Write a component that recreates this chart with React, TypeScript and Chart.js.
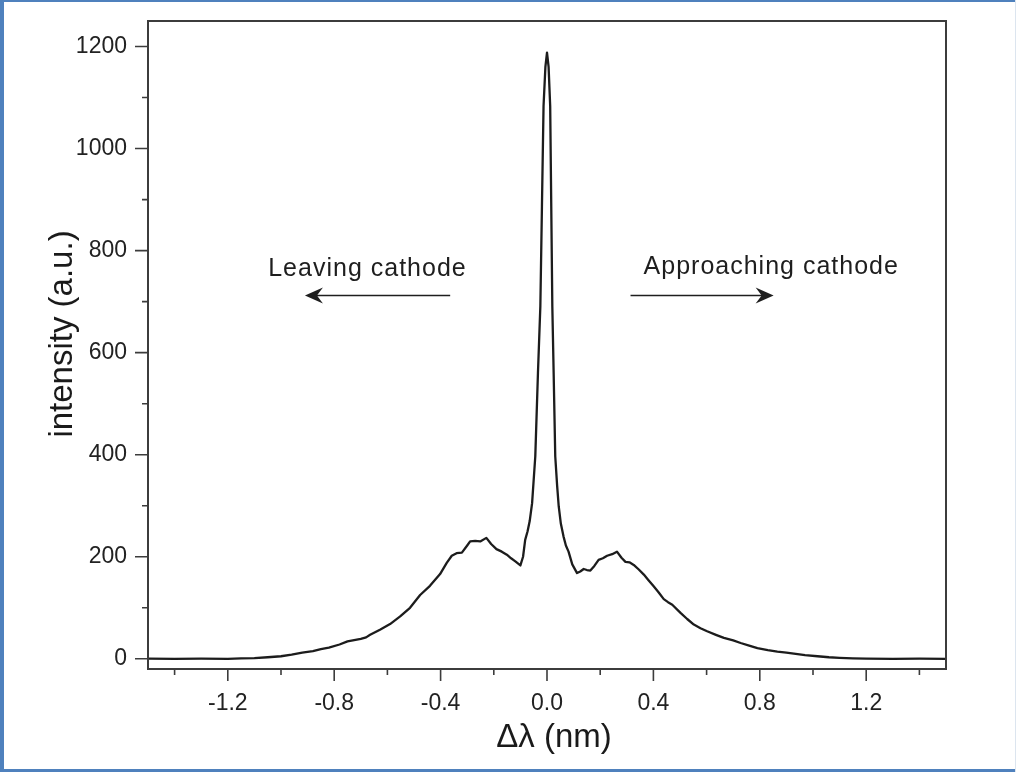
import React, { useEffect, useRef } from 'react';
import { Chart, registerables } from 'chart.js';

Chart.register(...registerables);

// Δλ (nm)
const wavelengthShift = [
  -1.5, -1.4, -1.3, -1.2, -1.15, -1.1, -1.05, -1.0, -0.96, -0.92, -0.88, -0.85, -0.82, -0.78, -0.75,
  -0.72, -0.7, -0.68, -0.665, -0.628, -0.59, -0.552, -0.515, -0.477, -0.44, -0.402, -0.377, -0.358,
  -0.34, -0.32, -0.3, -0.289, -0.27, -0.251, -0.228, -0.21, -0.19, -0.17, -0.151, -0.135, -0.119,
  -0.1, -0.09, -0.082, -0.073, -0.065, -0.056, -0.044, -0.034, -0.025, -0.019, -0.013, -0.006, 0,
  0.006, 0.012, 0.016, 0.02, 0.025, 0.031, 0.038, 0.044, 0.052, 0.062, 0.071, 0.081, 0.095, 0.113,
  0.125, 0.138, 0.15, 0.163, 0.178, 0.194, 0.21, 0.226, 0.245, 0.263, 0.28, 0.295, 0.31, 0.326, 0.345,
  0.364, 0.38, 0.401, 0.42, 0.439, 0.455, 0.471, 0.502, 0.527, 0.552, 0.577, 0.602, 0.635, 0.665, 0.7,
  0.728, 0.76, 0.791, 0.83, 0.866, 0.9, 0.928, 0.97, 1.017, 1.06, 1.1, 1.15, 1.2, 1.3, 1.4, 1.5,
];

// intensity (a.u.)
const intensity = [
  0.5, 0, 0.5, 0, 1, 1.5, 3, 5, 8, 12, 15, 19, 22, 28, 34,
  37, 39, 42, 47, 57, 68, 83, 100, 125, 143, 166, 188, 202,
  207, 208, 222, 230, 231, 230, 237, 225, 215, 210, 204, 197, 191,
  183, 200, 233, 250, 270, 305, 397, 560, 691, 887, 1083, 1160, 1188,
  1160, 1083, 887, 691, 560, 397, 340, 299, 265, 240, 222, 210, 185, 168,
  171, 176, 174, 173, 182, 194, 197, 202, 205, 210, 198, 190, 189, 184, 175,
  165, 155, 142, 130, 117, 111, 106, 90, 78, 67, 60, 54, 47, 41, 36,
  31, 26, 21, 17, 14, 12, 10, 7, 5, 3, 2, 1, 0.5, 0, 0.5, 0,
];

const xMajorTicks = [-1.2, -0.8, -0.4, 0, 0.4, 0.8, 1.2];
const xMinorTicks = [-1.4, -1.0, -0.6, -0.2, 0.2, 0.6, 1.0, 1.4];
const xTickLabels = ['-1.2', '-0.8', '-0.4', '0.0', '0.4', '0.8', '1.2'];
const yMajorTicks = [0, 200, 400, 600, 800, 1000, 1200];
const yMinorTicks = [100, 300, 500, 700, 900, 1100];
const yTickLabels = ['0', '200', '400', '600', '800', '1000', '1200'];

const xTitle = 'Δλ (nm)';
const yTitle = 'intensity (a.u.)';

const annotationTexts = ['Leaving cathode', 'Approaching cathode'];
const annotationTextX = [-0.675, 0.843];
const annotationTextY = [751, 755];
const arrowStartX = [-0.364, 0.314];
const arrowEndX = [-0.91, 0.852];
const arrowY = [712, 712];

const FONT = '"Liberation Sans", Arial, Helvetica, sans-serif';

const decorPlugin = {
  id: 'decor',
  beforeDraw(chart: any) {
    const { ctx, width, height } = chart;
    ctx.save();
    ctx.fillStyle = '#ffffff';
    ctx.fillRect(0, 0, width, height);
    ctx.fillStyle = '#4f81bd';
    ctx.fillRect(0, 0, width, 2);
    ctx.fillRect(0, 0, 4, height);
    ctx.fillRect(0, height - 3, width, 3);
    ctx.fillStyle = '#dce5ef';
    ctx.fillRect(width - 1, 0, 1, height);
    ctx.restore();
  },
  afterDraw(chart: any) {
    const { ctx, chartArea: a, scales } = chart;
    const x = scales.x;
    const y = scales.y;
    ctx.save();
    // frame
    ctx.strokeStyle = '#3c3c3c';
    ctx.lineWidth = 2;
    ctx.strokeRect(a.left, a.top, a.right - a.left, a.bottom - a.top);
    // tick marks
    ctx.lineWidth = 1.6;
    ctx.beginPath();
    xMajorTicks.forEach((v) => {
      const px = x.getPixelForValue(v);
      ctx.moveTo(px, a.bottom);
      ctx.lineTo(px, a.bottom + 12);
    });
    xMinorTicks.forEach((v) => {
      const px = x.getPixelForValue(v);
      ctx.moveTo(px, a.bottom);
      ctx.lineTo(px, a.bottom + 6);
    });
    yMajorTicks.forEach((v) => {
      const py = y.getPixelForValue(v);
      ctx.moveTo(a.left, py);
      ctx.lineTo(a.left - 13, py);
    });
    yMinorTicks.forEach((v) => {
      const py = y.getPixelForValue(v);
      ctx.moveTo(a.left, py);
      ctx.lineTo(a.left - 6, py);
    });
    ctx.stroke();

    // axis titles
    ctx.fillStyle = '#1a1a1a';
    ctx.font = `33px ${FONT}`;
    ctx.textAlign = 'center';
    ctx.textBaseline = 'middle';
    ctx.fillText(xTitle, (a.left + a.right) / 2 + 7, x.bottom - 34);
    ctx.save();
    ctx.translate(y.left + 63, (a.top + a.bottom) / 2 - 11);
    ctx.rotate(-Math.PI / 2);
    ctx.fillText(yTitle, 0, 0);
    ctx.restore();

    // annotations
    ctx.fillStyle = '#1e1e1e';
    ctx.strokeStyle = '#1e1e1e';
    ctx.font = `25px ${FONT}`;
    (ctx as any).letterSpacing = '1px';
    ctx.textAlign = 'center';
    ctx.textBaseline = 'alphabetic';
    annotationTexts.forEach((t, i) => {
      ctx.fillText(t, x.getPixelForValue(annotationTextX[i]), y.getPixelForValue(annotationTextY[i]));
    });
    (ctx as any).letterSpacing = '0px';
    annotationTexts.forEach((_, i) => {
      const x0 = x.getPixelForValue(arrowStartX[i]);
      const x1 = x.getPixelForValue(arrowEndX[i]);
      const py = y.getPixelForValue(arrowY[i]);
      const dir = x1 > x0 ? 1 : -1;
      ctx.lineWidth = 1.6;
      ctx.beginPath();
      ctx.moveTo(x0, py);
      ctx.lineTo(x1 - dir * 10, py);
      ctx.stroke();
      ctx.beginPath();
      ctx.moveTo(x1, py);
      ctx.lineTo(x1 - dir * 18, py - 8);
      ctx.lineTo(x1 - dir * 12, py);
      ctx.lineTo(x1 - dir * 18, py + 8);
      ctx.closePath();
      ctx.fill();
    });
    ctx.restore();
  },
};

export default function App() {
  const canvasRef = useRef<HTMLCanvasElement | null>(null);

  useEffect(() => {
    const canvas = canvasRef.current;
    if (!canvas) return;
    const points = wavelengthShift.map((v, i) => ({ x: v, y: intensity[i] }));
    const chart = new Chart(canvas, {
      type: 'line',
      data: {
        datasets: [
          {
            data: points,
            borderColor: '#1c1c1c',
            borderWidth: 2.3,
            borderJoinStyle: 'round',
            borderCapStyle: 'round',
            pointRadius: 0,
            tension: 0,
            fill: false,
          },
        ],
      },
      options: {
        animation: false,
        responsive: false,
        devicePixelRatio: 1,
        layout: { padding: { top: 21, right: 70, left: 0, bottom: 0 } },
        plugins: { legend: { display: false }, tooltip: { enabled: false } },
        scales: {
          x: {
            type: 'linear',
            min: -1.5,
            max: 1.5,
            grid: { display: false },
            border: { display: false },
            afterBuildTicks: (scale: any) => {
              scale.ticks = xMajorTicks.map((v) => ({ value: v }));
            },
            afterFit: (scale: any) => {
              scale.height = 103;
              scale.paddingLeft = 0;
              scale.paddingRight = 0;
              scale.paddingTop = 0;
              scale.paddingBottom = 0;
            },
            ticks: {
              padding: 13,
              color: '#222',
              font: { family: FONT, size: 23 },
              maxRotation: 0,
              autoSkip: false,
              callback: (_v: any, i: number) => xTickLabels[i],
            },
            title: { display: false },
          },
          y: {
            type: 'linear',
            min: -20,
            max: 1250,
            grid: { display: false },
            border: { display: false },
            afterBuildTicks: (scale: any) => {
              scale.ticks = yMajorTicks.map((v) => ({ value: v }));
            },
            afterFit: (scale: any) => {
              scale.width = 148;
              scale.paddingLeft = 0;
              scale.paddingRight = 0;
              scale.paddingTop = 0;
              scale.paddingBottom = 0;
            },
            ticks: {
              padding: 13,
              color: '#222',
              font: { family: FONT, size: 23 },
              autoSkip: false,
              callback: (_v: any, i: number) => yTickLabels[i],
            },
            title: { display: false },
          },
        },
      },
      plugins: [decorPlugin],
    });
    return () => chart.destroy();
  }, []);

  return (
    <div style={{ position: 'fixed', left: 0, top: 0, width: 1016, height: 772, background: '#fff' }}>
      <canvas ref={canvasRef} width={1016} height={772} style={{ display: 'block', width: 1016, height: 772 }} />
    </div>
  );
}
